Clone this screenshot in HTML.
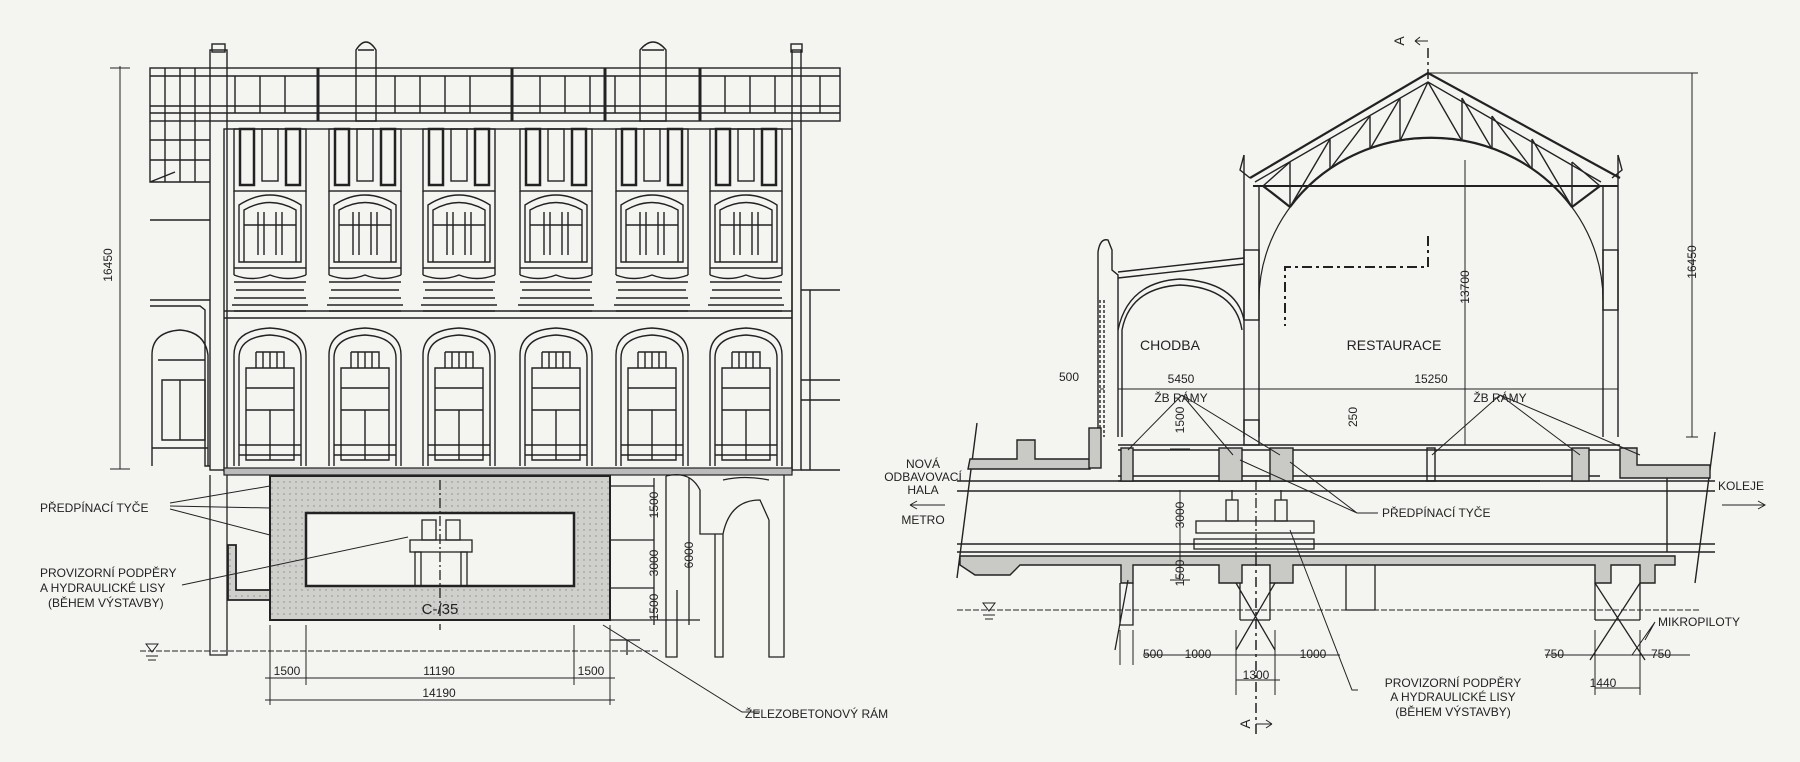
<!DOCTYPE html>
<html><head><meta charset="utf-8"><style>
html,body{margin:0;padding:0;background:#f4f4f1}
svg{display:block}
text{font-family:"Liberation Sans",sans-serif;font-size:12px;fill:#222}
</style></head><body>
<svg width="1800" height="762" viewBox="0 0 1800 762" xmlns="http://www.w3.org/2000/svg">
<defs>
<pattern id="dots" width="6" height="6" patternUnits="userSpaceOnUse"><rect width="6" height="6" fill="#cfcfcc"/><circle cx="2" cy="2" r="0.7" fill="#888"/></pattern>
<g id="ubay" fill="none" stroke="#222" stroke-width="1.4">
<rect x="-36" y="129" width="72" height="62"/>
<rect x="-30" y="129" width="14" height="56" stroke-width="2.5"/>
<rect x="16" y="129" width="14" height="56" stroke-width="2.5"/>
<rect x="-8" y="129" width="16" height="52"/>
<path d="M-36 191 L-36 275 M36 191 L36 275"/>
<path d="M-31 262 L-31 205 Q0 185 31 205 L31 262 Z"/>
<path d="M-26 262 L-26 210 Q0 195 26 210 L26 262 M-12 212 V255 M-6 212 V255 M6 212 V255 M12 212 V255 M-26 225 H26"/>
<path d="M-36 268 H36 M-36 275 Q-18 282 0 275 Q18 282 36 275 M-36 282 H36 M-34 290 H34 M-36 298 H36 M-38 305 H38 M-36 311 H36" />
</g>
<g id="lbay" fill="none" stroke="#222" stroke-width="1.4">
<path d="M-36 466 V355 Q-36 330 0 328 Q36 330 36 355 V466"/>
<path d="M-31 466 V358 Q-31 337 0 335 Q31 337 31 358 V466"/>
<path d="M-24 460 V368 H24 V460 Z M-24 388 H24 M-24 410 H24 M0 410 V460 M-14 352 H14 V368 M-14 352 V368 M-7 352 V368 M0 352 V368 M7 352 V368"/>
<path d="M-31 445 H31 M-31 455 H31"/>
</g>
</defs>
<rect width="1800" height="762" fill="#f4f4f1"/>

<!-- ============ LEFT ELEVATION ============ -->
<g fill="none" stroke="#222" stroke-width="1.4">
<rect x="150" y="68" width="690" height="53"/>
<path d="M150 76 H840 M150 106 H840 M150 113 H840"/>
<path d="M165 68 V121 M180 68 V121 M195 68 V121 M235 76 V113 M260 76 V113 M285 76 V113 M318 68 V121 M395 76 V113 M420 76 V113 M445 76 V113 M470 76 V113 M512 68 V121 M540 76 V113 M565 76 V113 M590 76 V113 M615 76 V113 M605 68 V121 M700 76 V113 M725 76 V113 M750 76 V113 M775 76 V113 M820 76 V113" />
<path d="M318 68 V121 M512 68 V121 M605 68 V121 M700 68 V121" stroke-width="3"/>
<path d="M150 121 V182 H210 M150 140 H210 M150 160 H210 M165 121 V182 M180 121 V182 M195 121 V182 M150 182 L175 172"/>
<path d="M150 220 H210 M150 300 H210 M150 306 H200 L205 310 V466 H210"/>
<path d="M152 466 V355 Q152 332 180 330 Q205 332 208 355 V466 M158 360 H205 M162 380 H205 V440 H162 Z M180 380 V440 M152 448 H208"/>
<rect x="210" y="50" width="17" height="420"/>
<rect x="212" y="44" width="13" height="8"/>
<path d="M356 121 V50 Q366 34 376 50 V121 Z M358 50 H374"/>
<path d="M640 121 V50 Q653 34 666 50 V121 Z M642 50 H664"/>
<rect x="792" y="50" width="9" height="420"/>
<rect x="791" y="44" width="11" height="8"/>
<rect x="224" y="129" width="568" height="342"/>
<path d="M224 311 H792 M224 318 H792"/>
<path d="M801 290 H840 M801 380 H840 M810 290 V470 M801 470 H840 M801 400 H840"/>
</g>
<g>
<use href="#ubay" x="270"/><use href="#ubay" x="365"/><use href="#ubay" x="459"/>
<use href="#ubay" x="556"/><use href="#ubay" x="652"/><use href="#ubay" x="746"/>
<use href="#lbay" x="270"/><use href="#lbay" x="365"/><use href="#lbay" x="459"/>
<use href="#lbay" x="556"/><use href="#lbay" x="652"/><use href="#lbay" x="746"/>
</g>
<rect x="224" y="468" width="568" height="7" fill="#bbb" stroke="#222" stroke-width="1.2"/>
<path d="M270 476 H610 V620 H270 Z" fill="url(#dots)" stroke="#222" stroke-width="2"/>
<rect x="306" y="513" width="268" height="73" fill="#f4f4f1" stroke="#222" stroke-width="2.5"/>
<path d="M228 545 H236 V590 H270 V600 H228 Z" fill="url(#dots)" stroke="#222" stroke-width="1.8"/>
<g fill="none" stroke="#222" stroke-width="1.3">
<rect x="410" y="540" width="62" height="12"/>
<rect x="415" y="552" width="6" height="34"/><rect x="461" y="552" width="6" height="34"/>
<rect x="422" y="520" width="14" height="20"/><rect x="446" y="520" width="14" height="20"/>
<path d="M440 480 V630" stroke-dasharray="10 3 2 3"/>
</g>
<g fill="none" stroke="#222" stroke-width="1.3">
<path d="M210 475 V655 H227 V475"/>
<path d="M666 476 V657 H677 V590 M715 534 V657 H723 V534 M769 520 V657 H784 V475 M666 476 Q690 470 700 490 V534 H723 Q730 500 760 500 L769 520 M723 480 Q745 475 769 480"/>
<path d="M610 486 H654 M610 540 H654 M610 588 H654 M610 620 H700 M627 640 V655 M610 640 H640 M654 478 V625 M689 478 V625"/>
</g>
<g fill="none" stroke="#222" stroke-width="1">
<path d="M140 651 H660" stroke-dasharray="6 2"/>
<path d="M120 66 V469 M110 68 H130 M110 469 H130"/>
<path d="M270 625 V705 M306 625 V685 M574 625 V685 M610 625 V705 M265 678 H615 M265 700 H615"/>
<path d="M603 625 L742 712 H760"/>
<path d="M170 503 L270 486 M170 506 L270 508 M170 509 L270 535 M182 585 L408 537"/>
</g>
<path d="M146 644 L158 644 L152 652 Z" fill="none" stroke="#222"/>
<path d="M146 656 H158 M148 660 H156" stroke="#222"/>
<text x="112" y="265" transform="rotate(-90 112 265)" text-anchor="middle">16450</text>
<text x="287" y="675" text-anchor="middle">1500</text>
<text x="439" y="675" text-anchor="middle">11190</text>
<text x="591" y="675" text-anchor="middle">1500</text>
<text x="439" y="697" text-anchor="middle">14190</text>
<text x="440" y="614" text-anchor="middle" style="font-size:15px">C-/35</text>
<text x="40" y="512">PŘEDPÍNACÍ TYČE</text>
<text x="40" y="577">PROVIZORNÍ PODPĚRY</text>
<text x="40" y="592">A HYDRAULICKÉ LISY</text>
<text x="48" y="607">(BĚHEM VÝSTAVBY)</text>
<text x="745" y="718">ŽELEZOBETONOVÝ RÁM</text>
<text x="658" y="505" transform="rotate(-90 658 505)" text-anchor="middle">1500</text>
<text x="658" y="563" transform="rotate(-90 658 563)" text-anchor="middle">3000</text>
<text x="658" y="607" transform="rotate(-90 658 607)" text-anchor="middle">1500</text>
<text x="693" y="555" transform="rotate(-90 693 555)" text-anchor="middle">6000</text>

<!-- ============ RIGHT SECTION ============ -->
<g fill="none" stroke="#222" stroke-width="1.4">
<path d="M1250 178 L1428 73 L1620 178" stroke-width="2.2"/>
<path d="M1255 182 L1428 82 L1601 182"/>
<path d="M1253 186 H1618" stroke-width="2"/>
<path d="M1259 300 A172 162 0 0 1 1603 300" stroke-width="1.2"/>
<path d="M1263 186 Q1275 195 1290 207 M1290 207 A172 162 0 0 1 1572 207 M1572 207 Q1588 195 1600 186" stroke-width="2.2"/>
<path d="M1290 162 V207 M1330 139 V169 M1370 116 V149 M1400 98 V141 M1462 98 V141 M1492 116 V149 M1532 139 V169 M1572 162 V207"/>
<path d="M1263 186 L1290 162 M1290 207 L1330 139 M1330 169 L1370 116 M1370 149 L1400 98 M1400 141 L1428 82 M1428 82 L1462 141 M1462 98 L1492 149 M1492 116 L1532 169 M1532 139 L1572 207 M1572 162 L1600 186"/>
<path d="M1244 155 V437 M1259 186 V437 M1603 186 V437 M1618 155 V437"/>
<path d="M1244 155 L1240 170 L1250 178 M1618 155 L1622 170 L1612 178"/>
<rect x="1244" y="250" width="15" height="70"/><rect x="1603" y="250" width="15" height="60"/>
<rect x="1244" y="420" width="15" height="25"/>
<path d="M1098 437 V252 Q1100 238 1108 240 L1112 250 V270 L1118 275 V437"/>
<path d="M1118 272 L1244 258 M1118 278 L1244 264"/>
<path d="M1122 437 V330 Q1130 288 1180 285 Q1235 288 1242 330"/>
<path d="M1118 330 Q1128 282 1180 279 Q1236 282 1244 320"/>
<path d="M1100 300 V437 M1104 300 V437" stroke-dasharray="3 2"/>
<path d="M1118 445 H1620 M1118 450 H1620 M1118 481 H1540 M1118 476 H1600"/>
<path d="M1465 160 V445" stroke-width="1"/>
<path d="M977 423 L957 578 M1715 432 L1695 583"/>
<path d="M957 481 H1715 M957 491 H1715 M957 544 H1715 M957 552 H1715"/>
<path d="M1667 470 V552" />
</g>
<g fill="#c9c9c6" stroke="#222" stroke-width="1.4">
<path d="M970 459 H1017 V440 H1035 V459 H1090 V469 H968 Z"/>
<rect x="1089" y="428" width="12" height="40"/>
<rect x="1121" y="448" width="12" height="33"/>
<rect x="1219" y="448" width="23" height="33"/>
<rect x="1270" y="448" width="23" height="33"/>
<rect x="1427" y="448" width="8" height="33" fill="none"/>
<rect x="1572" y="448" width="17" height="33"/>
<path d="M1620 448 H1637 V465 H1710 V478 H1620 Z"/>
<path d="M960 556 H1675 V565 H1655 V583 H1640 V565 H1611 V583 H1595 V565 H1293 V583 H1270 V565 H1242 V583 H1219 V565 H1133 V583 H1121 V565 H1020 L1010 575 H975 L960 565 Z"/>
</g>
<g fill="none" stroke="#222" stroke-width="1.3">
<rect x="1196" y="521" width="118" height="12"/>
<rect x="1194" y="539" width="120" height="10"/>
<rect x="1226" y="500" width="12" height="21"/><rect x="1275" y="500" width="12" height="21"/>
<path d="M1232 490 V500 M1281 490 V500"/>
<path d="M1256 480 V556" stroke-dasharray="10 3 2 3"/>
<path d="M1240 583 V620 M1270 583 V620 M1240 620 H1270 M1236 650 L1275 583 M1236 583 L1275 650"/>
<path d="M1595 583 V620 M1640 583 V620 M1595 620 H1640 M1590 660 L1640 583 M1595 583 L1645 660"/>
<path d="M1120 583 V625 H1133 V583 M1115 650 L1128 580"/>
<path d="M1346 565 V610 H1375 V565"/>
</g>
<path d="M1428 236 V267 H1285 V326" fill="none" stroke="#222" stroke-width="2" stroke-dasharray="10 4 3 4"/>
<path d="M1428 48 V80 M1256 556 V735" fill="none" stroke="#222" stroke-width="1.5" stroke-dasharray="10 4 3 4"/>
<g fill="none" stroke="#222" stroke-width="1">
<path d="M957 610 H1700" stroke-dasharray="6 2"/>
<path d="M1428 73 H1698 M1692 73 V437 M1686 437 H1698"/>
<path d="M1118 389 H1618 M1100 389 H1104"/>
<path d="M1182 395 L1128 450 M1182 395 L1233 455 M1182 395 L1280 455 M1500 395 L1432 455 M1500 395 L1580 455 M1500 395 L1640 455"/>
<path d="M1378 513 H1357 L1240 460 M1357 513 L1290 462"/>
<path d="M1358 690 H1352 L1290 530"/>
<path d="M1655 622 L1645 640 M1655 622 L1632 655"/>
<path d="M1180 490 V580 M1170 449 H1190 M1170 481 H1190 M1170 544 H1190 M1170 580 H1190"/>
<path d="M1143 655 H1340 M1236 680 H1280 M1545 655 H1690 M1595 688 H1640"/>
<path d="M1120 630 V665 M1133 630 V665 M1236 630 V695 M1275 630 V695 M1595 630 V695 M1640 630 V695"/>
<path d="M1722 505 H1765 M1758 501 L1765 505 L1758 509 M910 505 H945 M910 505 L917 501 M910 505 L917 509"/>
<path d="M1415 41 H1428 M1415 41 L1420 37 M1415 41 L1420 45 M1272 724 H1256 M1272 724 L1266 720 M1272 724 L1266 728"/>
</g>
<path d="M983 603 L995 603 L989 611 Z" fill="none" stroke="#222"/>
<path d="M983 615 H995 M985 619 H993" stroke="#222"/>
<text x="1170" y="350" text-anchor="middle" style="font-size:14px">CHODBA</text>
<text x="1394" y="350" text-anchor="middle" style="font-size:14px">RESTAURACE</text>
<text x="1469" y="287" transform="rotate(-90 1469 287)" text-anchor="middle">13700</text>
<text x="1696" y="262" transform="rotate(-90 1696 262)" text-anchor="middle">16450</text>
<text x="1181" y="383" text-anchor="middle">5450</text>
<text x="1431" y="383" text-anchor="middle">15250</text>
<text x="1069" y="381" text-anchor="middle">500</text>
<text x="1181" y="402" text-anchor="middle">ŽB RÁMY</text>
<text x="1500" y="402" text-anchor="middle">ŽB RÁMY</text>
<text x="1184" y="420" transform="rotate(-90 1184 420)" text-anchor="middle">1500</text>
<text x="1357" y="417" transform="rotate(-90 1357 417)" text-anchor="middle">250</text>
<text x="1184" y="515" transform="rotate(-90 1184 515)" text-anchor="middle">3000</text>
<text x="1184" y="573" transform="rotate(-90 1184 573)" text-anchor="middle">1500</text>
<text x="1153" y="658" text-anchor="middle">500</text>
<text x="1198" y="658" text-anchor="middle">1000</text>
<text x="1313" y="658" text-anchor="middle">1000</text>
<text x="1256" y="679" text-anchor="middle">1300</text>
<text x="1554" y="658" text-anchor="middle">750</text>
<text x="1661" y="658" text-anchor="middle">750</text>
<text x="1603" y="687" text-anchor="middle">1440</text>
<text x="1658" y="626">MIKROPILOTY</text>
<text x="1382" y="517">PŘEDPÍNACÍ TYČE</text>
<text x="1453" y="687" text-anchor="middle">PROVIZORNÍ PODPĚRY</text>
<text x="1453" y="701" text-anchor="middle">A HYDRAULICKÉ LISY</text>
<text x="1453" y="716" text-anchor="middle">(BĚHEM VÝSTAVBY)</text>
<text x="923" y="468" text-anchor="middle">NOVÁ</text>
<text x="923" y="481" text-anchor="middle">ODBAVOVACÍ</text>
<text x="923" y="494" text-anchor="middle">HALA</text>
<text x="923" y="524" text-anchor="middle">METRO</text>
<text x="1741" y="490" text-anchor="middle">KOLEJE</text>
<text x="1400" y="45" transform="rotate(-90 1400 41)" text-anchor="middle" style="font-size:14px">A</text>
<text x="1246" y="728" transform="rotate(-90 1246 724)" text-anchor="middle" style="font-size:14px">A</text>
</svg>
</body></html>
